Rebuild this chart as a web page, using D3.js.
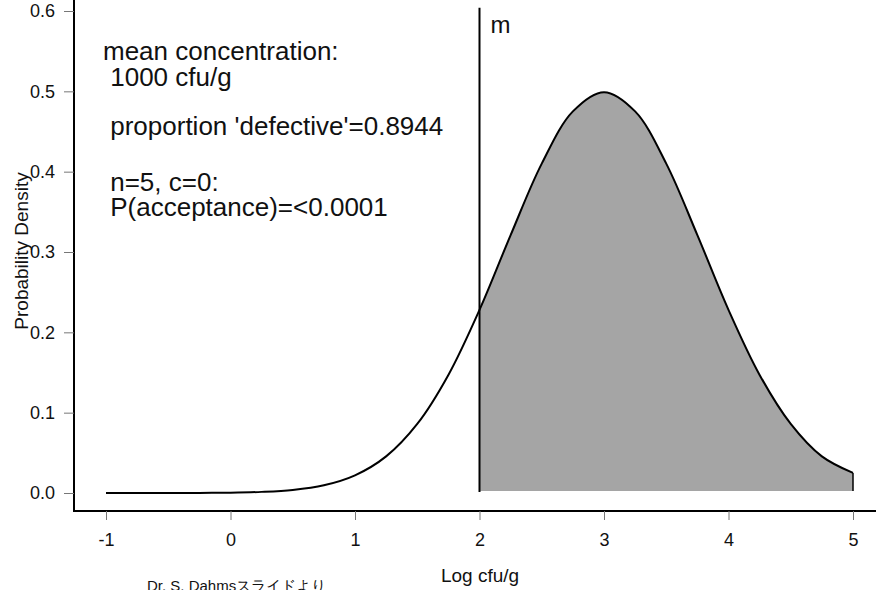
<!DOCTYPE html>
<html>
<head>
<meta charset="utf-8">
<script src="https://cdn.jsdelivr.net/npm/d3@7"></script>
<style>
  body { margin: 0; background: #fff; }
  svg text { font-family: "Liberation Sans", Arial, sans-serif; fill: #111; }
</style>
</head>
<body>
<div id="chart"></div>
<script>
const width = 876,
    height = 590;

// log cfu/g values and density
const logCfu = [-1, -0.75, -0.5, -0.25, 0, 0.25, 0.5, 0.75, 1, 1.25, 1.5, 1.75, 2,
    2.25, 2.5, 2.75, 3, 3.25, 3.5, 3.75, 4, 4.25, 4.5, 4.75, 5];
const density = [0, 0, 0, 0.0001, 0.0004, 0.0014, 0.0038, 0.0096, 0.022, 0.0456, 0.086, 0.147, 0.228,
    0.321, 0.41, 0.475, 0.499, 0.475, 0.41, 0.321, 0.228, 0.147, 0.086, 0.0456, 0.025];
const xTicks = [-1, 0, 1, 2, 3, 4, 5];
const yTicks = [0, 0.1, 0.2, 0.3, 0.4, 0.5, 0.6];
const limitM = 2;
const mLineTop = 0.604;
const notes = [
    { text: "mean concentration:", y: 60 },
    { text: " 1000 cfu/g", y: 86 },
    { text: " proportion 'defective'=0.8944", y: 135 },
    { text: " n=5, c=0:", y: 191 },
    { text: " P(acceptance)=<0.0001", y: 216 }
];

const data = logCfu.map((d, i) => ({ x: d, y: density[i] }));

const svg = d3.select("#chart")
  .append("svg")
  .attr("width", width)
  .attr("height", height);

const x = d3.scaleLinear().domain([-1, 5]).range([106, 853]);
const y = d3.scaleLinear().domain([0, 0.6]).range([493, 11]);

// shaded "defective" area above m
const area = d3.area()
    .x(d => x(d.x))
    .y0(y(0) - 2)
    .y1(d => y(d.y))
    .curve(d3.curveCatmullRom);

svg.append("path")
    .datum(data.filter(d => d.x >= limitM))
    .attr("d", area)
    .attr("fill", "#a5a5a5");

const line = d3.line()
    .x(d => x(d.x))
    .y(d => y(d.y))
    .curve(d3.curveCatmullRom);

svg.append("path")
    .datum(data)
    .attr("d", line)
    .attr("fill", "none")
    .attr("stroke", "#000")
    .attr("stroke-width", 2);

// drop at right edge of the shaded area
const last = data[data.length - 1];
svg.append("line")
    .attr("x1", x(last.x)).attr("x2", x(last.x))
    .attr("y1", y(last.y)).attr("y2", y(0) - 2)
    .attr("stroke", "#000").attr("stroke-width", 1.5);

// m line
svg.append("line")
    .attr("x1", x(limitM)).attr("x2", x(limitM))
    .attr("y1", y(mLineTop)).attr("y2", y(0) - 1)
    .attr("stroke", "#000").attr("stroke-width", 2);

svg.append("text")
    .attr("x", x(limitM) + 11)
    .attr("y", 33)
    .attr("font-size", 24)
    .text("m");

// axes
const xAxis = svg.append("g")
    .attr("transform", "translate(0,511)")
    .call(d3.axisBottom(x).tickValues(xTicks).tickFormat(d => String(d)).tickSize(9).tickPadding(13));
xAxis.select(".domain").attr("d", "M74,0H876").attr("stroke-width", 2);

const yAxis = svg.append("g")
    .attr("transform", "translate(74,0)")
    .call(d3.axisLeft(y).tickValues(yTicks).tickFormat(d3.format(".1f")).tickSize(10).tickPadding(9));
yAxis.select(".domain").attr("d", "M0,0V512").attr("stroke-width", 2);

svg.selectAll(".tick line").attr("stroke", "#777");
svg.selectAll(".tick text").attr("font-size", 18).attr("fill", "#111")
    .attr("font-family", "Liberation Sans, Arial, sans-serif");

svg.append("text")
    .attr("transform", "translate(28,251) rotate(-90)")
    .attr("text-anchor", "middle")
    .attr("font-size", 19)
    .text("Probability Density");

svg.append("text")
    .attr("x", 480)
    .attr("y", 582)
    .attr("text-anchor", "middle")
    .attr("font-size", 19)
    .text("Log cfu/g");

svg.append("text")
    .attr("x", 147)
    .attr("y", 591)
    .attr("font-size", 15)
    .attr("font-family", "Noto Sans CJK JP, sans-serif")
    .text("Dr. S. Dahmsスライドより");

svg.selectAll(".note")
    .data(notes)
    .enter().append("text")
    .attr("class", "note")
    .attr("x", 103)
    .attr("y", d => d.y)
    .attr("font-size", 26)
    .style("white-space", "pre")
    .text(d => d.text);
</script>
</body>
</html>
